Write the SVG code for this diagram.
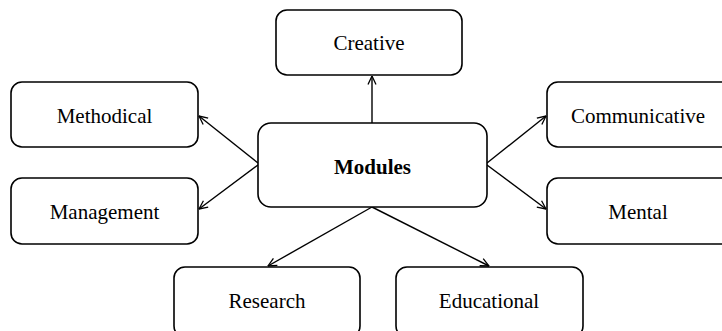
<svg xmlns="http://www.w3.org/2000/svg" width="722" height="331" viewBox="0 0 722 331">
<defs>
<marker id="arr" viewBox="0 0 10 10" refX="9.5" refY="5" markerWidth="10" markerHeight="10" markerUnits="userSpaceOnUse" orient="auto">
<path d="M1,1 L9.5,5 L1,9" fill="none" stroke="#000" stroke-width="1.3"/>
</marker>
</defs>
<style>
rect{fill:#fff;stroke:#000;stroke-width:1.6}
text{font-family:"Liberation Serif","Times New Roman",serif;font-size:21px;text-anchor:middle;fill:#000}
.b{font-weight:bold}
.c line{stroke:#000;stroke-width:1.4;marker-end:url(#arr)}
</style>
<rect x="0" y="0" width="722" height="331" style="fill:#fff;stroke:none"/>
<g class="c" id="connectors">
<line x1="372" y1="123" x2="372" y2="76"/>
<line x1="258" y1="163" x2="199" y2="116"/>
<line x1="258" y1="165" x2="199" y2="209"/>
<line x1="487" y1="163" x2="546" y2="116"/>
<line x1="487" y1="165" x2="546" y2="209"/>
<line x1="372" y1="207" x2="268" y2="266"/>
<line x1="372" y1="207" x2="489" y2="266"/>
</g>
<g id="creative"><rect x="276" y="10" width="186" height="65" rx="11"/><text x="369" y="50">Creative</text></g>
<g id="methodical"><rect x="11" y="82" width="187" height="65" rx="11"/><text x="104.5" y="122.5">Methodical</text></g>
<g id="modules"><rect x="258" y="123" width="229" height="84" rx="13"/><text class="b" x="372.5" y="174">Modules</text></g>
<g id="communicative"><rect x="547" y="82" width="190" height="65" rx="11"/><text x="638" y="122.5">Communicative</text></g>
<g id="management"><rect x="11" y="178" width="187" height="66" rx="11"/><text x="104.5" y="219">Management</text></g>
<g id="mental"><rect x="547" y="178" width="190" height="66" rx="11"/><text x="638" y="219">Mental</text></g>
<g id="research"><rect x="174" y="267" width="186" height="70" rx="11"/><text x="267" y="308">Research</text></g>
<g id="educational"><rect x="396" y="267" width="187" height="70" rx="11"/><text x="489" y="308">Educational</text></g>
</svg>
